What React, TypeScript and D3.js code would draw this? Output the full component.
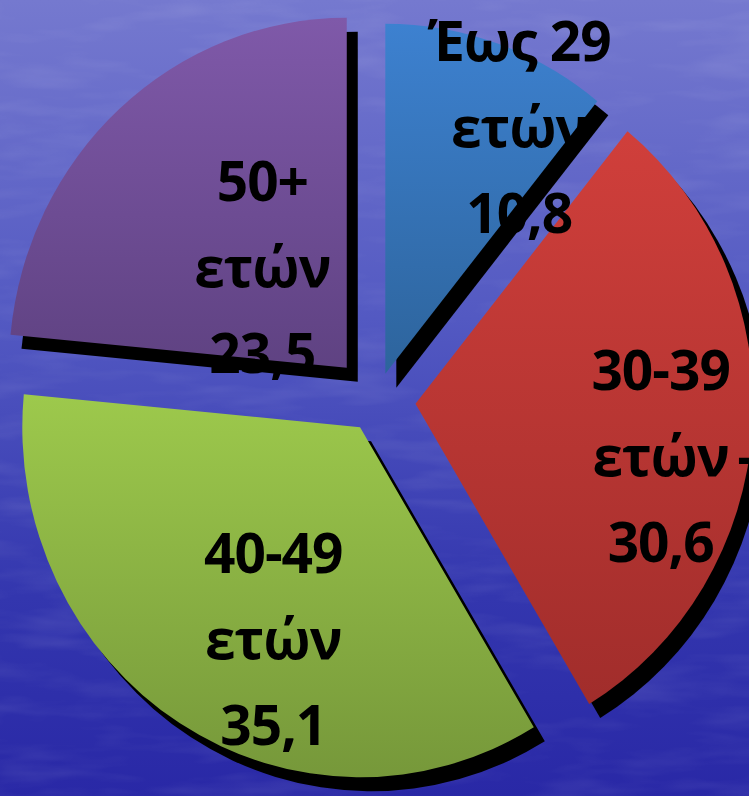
import React, { useEffect } from "react";
import * as d3 from "d3";

// age groups and their share (%)
const ageGroups = ["Έως 29", "30-39", "40-49", "50+"];
const unitLabel = "ετών";
const unitSuffix = ["", "–", "", ""];
const shares = [10.8, 30.6, 35.1, 23.5];
const explodeBy = [29, 41, 31, 45];
const topColors = ["#3d81d0", "#d03f3b", "#9dc94c", "#7f59a9"];
const bottomColors = ["#2d649c", "#a12d2b", "#76983a", "#5f4282"];

const width = 749;
const height = 796;
const cx = 376;
const cy = 401;
const radius = 350;
const squeeze = 0.965;
const shadow = { dx: 11, dy: 14 };
// where each label sits: turn (deg) away from the slice bisector, k = fraction of radius
const labelPlace = [
  { turn: 12, k: 0.76 },
  { turn: 12, k: 0.755 },
  { turn: -11, k: 0.71 },
  { turn: -5, k: 0.34 },
];
const lineGap = 86;

function fmt(v: number) {
  return d3.format(".1f")(v).replace(".", ",");
}

export default function App() {
  useEffect(() => {
    document.body.style.margin = "0";
    document.body.style.overflow = "hidden";
  }, []);

  const pie = d3.pie<number>().sort(null).value((d) => d);
  const arcs = pie(shares);
  const arcGen = d3.arc<d3.PieArcDatum<number>>().innerRadius(0).outerRadius(radius);

  const offsetOf = (a: d3.PieArcDatum<number>, i: number) => {
    const mid = (a.startAngle + a.endAngle) / 2;
    return [Math.sin(mid) * explodeBy[i], -Math.cos(mid) * explodeBy[i]];
  };

  const labelPos = (a: d3.PieArcDatum<number>, i: number) => {
    const [ox, oy] = offsetOf(a, i);
    const ang = (a.startAngle + a.endAngle) / 2 + (labelPlace[i].turn * Math.PI) / 180;
    const r = labelPlace[i].k * radius;
    return [cx + squeeze * (ox + Math.sin(ang) * r), cy + oy - Math.cos(ang) * r];
  };

  return (
    <svg width={width} height={height} style={{ display: "block" }}>
      <defs>
        <linearGradient id="bg" x1="0" y1="0" x2="0" y2="1">
          <stop offset="0" stopColor="#7579cf" />
          <stop offset="0.4" stopColor="#5359c2" />
          <stop offset="0.75" stopColor="#3336ae" />
          <stop offset="1" stopColor="#2928a6" />
        </linearGradient>
        <filter id="grain" x="0" y="0" width="100%" height="100%">
          <feTurbulence type="fractalNoise" baseFrequency="0.01 0.05" numOctaves="3" seed="4" />
          <feColorMatrix
            type="matrix"
            values="0 0 0 0 1  0 0 0 0 1  0 0 0 0 1  0 0 0 0.5 -0.22"
          />
        </filter>
        {arcs.map((a, i) => (
          <linearGradient key={i} id={`slice${i}`} x1="0" y1="0" x2="0" y2="1">
            <stop offset="0" stopColor={topColors[i]} />
            <stop offset="1" stopColor={bottomColors[i]} />
          </linearGradient>
        ))}
      </defs>
      <rect width={width} height={height} fill="url(#bg)" />
      <rect width={width} height={height} filter="url(#grain)" opacity={0.35} />

      <g transform={`translate(${cx + shadow.dx},${cy + shadow.dy}) scale(${squeeze},1)`}>
        {arcs.map((a, i) => {
          const [ox, oy] = offsetOf(a, i);
          return <path key={i} d={arcGen(a) || ""} transform={`translate(${ox},${oy})`} fill="#000" />;
        })}
      </g>
      <g transform={`translate(${cx},${cy}) scale(${squeeze},1)`}>
        {arcs.map((a, i) => {
          const [ox, oy] = offsetOf(a, i);
          return (
            <path key={i} d={arcGen(a) || ""} transform={`translate(${ox},${oy})`} fill={`url(#slice${i})`} />
          );
        })}
      </g>

      <g
        fontFamily="'Open Sans', 'Noto Sans', sans-serif"
        fontWeight={700}
        fontSize={55}
        letterSpacing={-1}
        fill="#000"
      >
        {arcs.map((a, i) => {
          const [lx, ly] = labelPos(a, i);
          return (
            <g key={i}>
              <text x={lx} y={ly - lineGap} textAnchor="middle">
                {ageGroups[i]}
              </text>
              <text x={lx} y={ly} textAnchor="middle">
                {unitLabel}
              </text>
              {unitSuffix[i] && (
                <text x={lx + 76} y={ly} textAnchor="start">
                  {unitSuffix[i]}
                </text>
              )}
              <text x={lx} y={ly + lineGap} textAnchor="middle">
                {fmt(a.data)}
              </text>
            </g>
          );
        })}
      </g>
    </svg>
  );
}
